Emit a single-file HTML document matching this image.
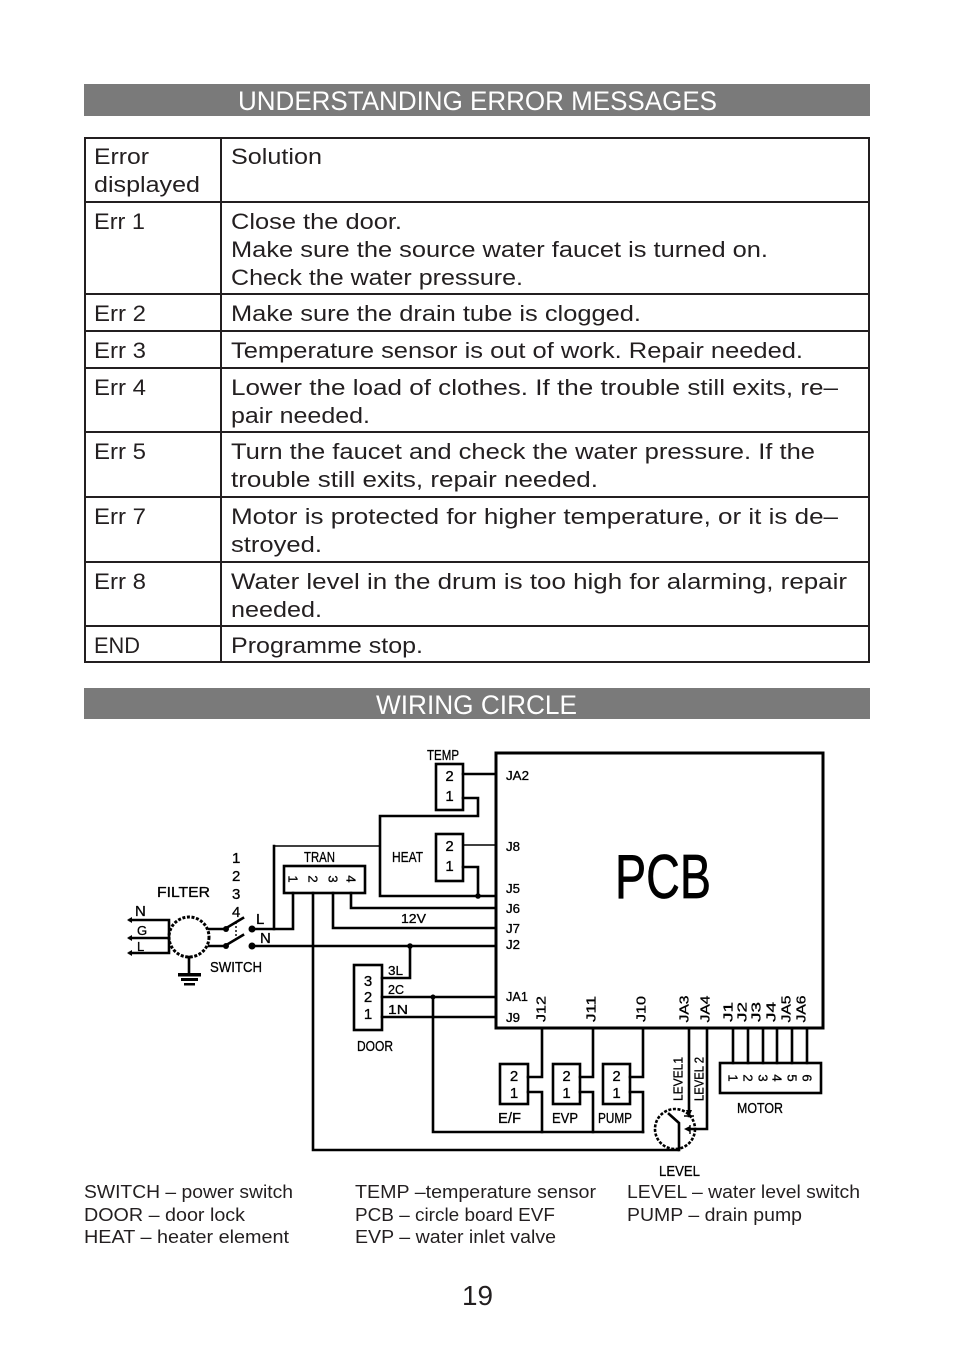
<!DOCTYPE html>
<html><head><meta charset="utf-8">
<style>
html,body{margin:0;padding:0;background:#fff;}
svg{display:block;}
.t{font-family:"Liberation Sans",sans-serif;font-size:22px;fill:#231f20;}
.h{font-family:"Liberation Sans",sans-serif;font-size:27px;fill:#fff;}
.lg{font-family:"Liberation Sans",sans-serif;font-size:18px;fill:#231f20;}
.d{font-family:"Liberation Sans",sans-serif;font-size:15px;fill:#000;stroke:#000;stroke-width:0.3;}
.s{font-family:"Liberation Sans",sans-serif;font-size:13px;fill:#000;stroke:#000;stroke-width:0.3;}
</style></head>
<body>
<svg width="954" height="1349" viewBox="0 0 954 1349" xmlns="http://www.w3.org/2000/svg">
<rect x="0" y="0" width="954" height="1349" fill="#fff"/>

<!-- Header 1 -->
<rect x="84" y="84" width="786" height="32" fill="#7a7a7a"/>
<text class="h" x="238" y="110" textLength="479" lengthAdjust="spacingAndGlyphs">UNDERSTANDING ERROR MESSAGES</text>

<!-- Table -->
<g stroke="#231f20" stroke-width="2" fill="none">
<rect x="85" y="138" width="784" height="524"/>
<line x1="221" y1="138" x2="221" y2="662"/>
<line x1="85" y1="202" x2="869" y2="202"/>
<line x1="85" y1="294" x2="869" y2="294"/>
<line x1="85" y1="331" x2="869" y2="331"/>
<line x1="85" y1="368" x2="869" y2="368"/>
<line x1="85" y1="432" x2="869" y2="432"/>
<line x1="85" y1="497" x2="869" y2="497"/>
<line x1="85" y1="562" x2="869" y2="562"/>
<line x1="85" y1="626" x2="869" y2="626"/>
</g>
<text class="t" x="94" y="164" textLength="55" lengthAdjust="spacingAndGlyphs">Error</text>
<text class="t" x="94" y="192" textLength="106" lengthAdjust="spacingAndGlyphs">displayed</text>
<text class="t" x="231" y="164" textLength="91" lengthAdjust="spacingAndGlyphs">Solution</text>

<text class="t" x="94" y="229" textLength="51" lengthAdjust="spacingAndGlyphs">Err 1</text>
<text class="t" x="231" y="229" textLength="171" lengthAdjust="spacingAndGlyphs">Close the door.</text>
<text class="t" x="231" y="257" textLength="537" lengthAdjust="spacingAndGlyphs">Make sure the source water faucet is turned on.</text>
<text class="t" x="231" y="285" textLength="292" lengthAdjust="spacingAndGlyphs">Check the water pressure.</text>

<text class="t" x="94" y="321" textLength="52" lengthAdjust="spacingAndGlyphs">Err 2</text>
<text class="t" x="231" y="321" textLength="410" lengthAdjust="spacingAndGlyphs">Make sure the drain tube is clogged.</text>

<text class="t" x="94" y="358" textLength="52" lengthAdjust="spacingAndGlyphs">Err 3</text>
<text class="t" x="231" y="358" textLength="572" lengthAdjust="spacingAndGlyphs">Temperature sensor is out of work. Repair needed.</text>

<text class="t" x="94" y="395" textLength="52" lengthAdjust="spacingAndGlyphs">Err 4</text>
<text class="t" x="231" y="395" textLength="607" lengthAdjust="spacingAndGlyphs">Lower the load of clothes. If the trouble still exits, re–</text>
<text class="t" x="231" y="423" textLength="139" lengthAdjust="spacingAndGlyphs">pair needed.</text>

<text class="t" x="94" y="459" textLength="52" lengthAdjust="spacingAndGlyphs">Err 5</text>
<text class="t" x="231" y="459" textLength="584" lengthAdjust="spacingAndGlyphs">Turn the faucet and check the water pressure. If the</text>
<text class="t" x="231" y="487" textLength="367" lengthAdjust="spacingAndGlyphs">trouble still exits, repair needed.</text>

<text class="t" x="94" y="524" textLength="52" lengthAdjust="spacingAndGlyphs">Err 7</text>
<text class="t" x="231" y="524" textLength="607" lengthAdjust="spacingAndGlyphs">Motor is protected for higher temperature, or it is de–</text>
<text class="t" x="231" y="552" textLength="91" lengthAdjust="spacingAndGlyphs">stroyed.</text>

<text class="t" x="94" y="589" textLength="52" lengthAdjust="spacingAndGlyphs">Err 8</text>
<text class="t" x="231" y="589" textLength="616" lengthAdjust="spacingAndGlyphs">Water level in the drum is too high for alarming, repair</text>
<text class="t" x="231" y="617" textLength="91" lengthAdjust="spacingAndGlyphs">needed.</text>

<text class="t" x="94" y="653" textLength="46" lengthAdjust="spacingAndGlyphs">END</text>
<text class="t" x="231" y="653" textLength="192" lengthAdjust="spacingAndGlyphs">Programme stop.</text>

<!-- Header 2 -->
<rect x="84" y="688" width="786" height="31" fill="#7a7a7a"/>
<text class="h" x="376" y="714" textLength="201" lengthAdjust="spacingAndGlyphs">WIRING CIRCLE</text>

<!-- Diagram wires -->
<g stroke="#000" stroke-width="2.6" fill="none" stroke-linecap="square" stroke-linejoin="miter">
<rect x="496" y="753" width="327" height="275" stroke-width="3"/>
<!-- TEMP -->
<rect x="436" y="764" width="27" height="46"/>
<path d="M463 774 H496"/>
<path d="M463 798 H478 V816 H380 V896 H496"/>
<!-- HEAT -->
<rect x="436" y="834" width="27" height="47"/>
<path d="M463 867 H478 V896"/>
<!-- TRAN -->
<rect x="284" y="866" width="81" height="27"/>
<path d="M252 929 H293 V893"/>
<path d="M274 929 V846"/>
<path d="M351 893 V908 H496"/>
<path d="M333 893 V928 H496"/>
<path d="M313 893 V1150 H678"/>
<path d="M252 946 H496"/>
<!-- DOOR -->
<rect x="354" y="965" width="28" height="65"/>
<path d="M410 946 V978 H382"/>
<path d="M382 997 H496"/>
<path d="M382 1017 H496"/>
<path d="M433 997 V1132 H643"/>
<!-- E/F EVP PUMP -->
<rect x="500" y="1064" width="28" height="40"/>
<rect x="553" y="1064" width="27" height="40"/>
<rect x="603" y="1064" width="27" height="40"/>
<path d="M528 1077 H542 V1028"/>
<path d="M528 1092 H542 V1132"/>
<path d="M580 1077 H593 V1028"/>
<path d="M580 1092 H593 V1132"/>
<path d="M630 1077 H643 V1028"/>
<path d="M630 1092 H643 V1132"/>
<!-- LEVEL -->
<path d="M689 1028 V1116"/>
<path d="M707 1028 V1129 H690"/>
<path d="M669 1114 L679 1123 V1150"/>
<!-- MOTOR -->
<rect x="720" y="1063" width="101" height="30"/>
<path d="M733 1028 V1063 M748 1028 V1063 M763 1028 V1063 M777 1028 V1063 M792 1028 V1063 M807 1028 V1063"/>
<!-- FILTER -->
<path d="M130 920 H169 M130 938 H169 M130 953 H169 M169 920 V953"/>
<path d="M189 957 V975"/>
<path d="M209 929 H223 M209 946 H223"/>
<path d="M228 927 L243 918 M228 944 L243 935"/>
</g>
<!-- thin wires -->
<g stroke="#000" stroke-width="1.4" fill="none">
<path d="M463 845 H496"/>
<path d="M274 846 H380"/>
<path d="M236 922 V940" stroke-dasharray="2 2"/>
<path d="M684 1116 H694 M690 1125 V1134"/>
</g>
<!-- dashed circles -->
<circle cx="189" cy="937" r="20" fill="none" stroke="#000" stroke-width="3" stroke-dasharray="3 1.6"/>
<circle cx="675" cy="1129" r="20" fill="none" stroke="#000" stroke-width="2.6" stroke-dasharray="3 1.6"/>
<!-- dots -->
<g fill="#000">
<circle cx="478" cy="896" r="2.8"/>
<circle cx="410" cy="946" r="2.8"/>
<circle cx="433" cy="997" r="2.5"/>
<circle cx="226" cy="929" r="3"/>
<circle cx="226" cy="946" r="3"/>
<circle cx="252" cy="929" r="3.5"/>
<circle cx="252" cy="946" r="3.5"/>
<polygon points="127,920 132,917 132,923"/>
<polygon points="127,938 132,935 132,941"/>
<polygon points="127,953 132,950 132,956"/>
<rect x="178" y="973" width="23" height="3.5"/>
<rect x="181" y="978" width="17" height="3"/>
<rect x="184" y="983" width="11" height="2.5"/>
<polygon points="686,1110 692,1110 689,1117"/>
<polygon points="690,1126 690,1132 684,1129"/>
</g>

<!-- Diagram labels -->
<text class="d" x="427" y="760" textLength="32" lengthAdjust="spacingAndGlyphs">TEMP</text>
<text class="d" x="392" y="862" textLength="31" lengthAdjust="spacingAndGlyphs">HEAT</text>
<text class="d" x="304" y="862" textLength="31" lengthAdjust="spacingAndGlyphs">TRAN</text>
<text class="d" x="157" y="897" textLength="53" lengthAdjust="spacingAndGlyphs">FILTER</text>
<text class="d" x="210" y="972" textLength="52" lengthAdjust="spacingAndGlyphs">SWITCH</text>
<text class="d" x="232" y="863">1</text>
<text class="d" x="232" y="881">2</text>
<text class="d" x="232" y="899">3</text>
<text class="d" x="232" y="917">4</text>
<text class="d" x="135" y="916">N</text>
<text class="s" x="137" y="935">G</text>
<text class="s" x="137" y="951">L</text>
<text class="d" x="256" y="924">L</text>
<text class="d" x="260" y="943">N</text>
<text class="s" x="401" y="923" textLength="25" lengthAdjust="spacingAndGlyphs">12V</text>
<text class="s" x="388" y="975" textLength="15" lengthAdjust="spacingAndGlyphs">3L</text>
<text class="s" x="388" y="994" textLength="16" lengthAdjust="spacingAndGlyphs">2C</text>
<text class="s" x="388" y="1014" textLength="20" lengthAdjust="spacingAndGlyphs">1N</text>
<text class="d" x="357" y="1051" textLength="36" lengthAdjust="spacingAndGlyphs">DOOR</text>

<text class="s" x="506" y="780" textLength="23" lengthAdjust="spacingAndGlyphs">JA2</text>
<text class="s" x="506" y="851" textLength="14" lengthAdjust="spacingAndGlyphs">J8</text>
<text class="s" x="506" y="893" textLength="14" lengthAdjust="spacingAndGlyphs">J5</text>
<text class="s" x="506" y="913" textLength="14" lengthAdjust="spacingAndGlyphs">J6</text>
<text class="s" x="506" y="933" textLength="14" lengthAdjust="spacingAndGlyphs">J7</text>
<text class="s" x="506" y="949" textLength="14" lengthAdjust="spacingAndGlyphs">J2</text>
<text class="s" x="506" y="1001" textLength="22" lengthAdjust="spacingAndGlyphs">JA1</text>
<text class="s" x="506" y="1022" textLength="14" lengthAdjust="spacingAndGlyphs">J9</text>

<g class="s" text-anchor="middle" dominant-baseline="central">
<text transform="translate(541,1009) rotate(-90)" textLength="26" lengthAdjust="spacingAndGlyphs">J12</text>
<text transform="translate(591,1009) rotate(-90)" textLength="26" lengthAdjust="spacingAndGlyphs">J11</text>
<text transform="translate(641,1009) rotate(-90)" textLength="26" lengthAdjust="spacingAndGlyphs">J10</text>
<text transform="translate(684,1009) rotate(-90)" textLength="27" lengthAdjust="spacingAndGlyphs">JA3</text>
<text transform="translate(705,1009) rotate(-90)" textLength="27" lengthAdjust="spacingAndGlyphs">JA4</text>
<text transform="translate(728,1012) rotate(-90)" textLength="20" lengthAdjust="spacingAndGlyphs">J1</text>
<text transform="translate(742,1012) rotate(-90)" textLength="20" lengthAdjust="spacingAndGlyphs">J2</text>
<text transform="translate(756,1012) rotate(-90)" textLength="20" lengthAdjust="spacingAndGlyphs">J3</text>
<text transform="translate(771,1012) rotate(-90)" textLength="20" lengthAdjust="spacingAndGlyphs">J4</text>
<text transform="translate(786,1009) rotate(-90)" textLength="27" lengthAdjust="spacingAndGlyphs">JA5</text>
<text transform="translate(801,1009) rotate(-90)" textLength="27" lengthAdjust="spacingAndGlyphs">JA6</text>
<text transform="translate(678,1079) rotate(-90)" textLength="44" lengthAdjust="spacingAndGlyphs">LEVEL1</text>
<text transform="translate(699,1079) rotate(-90)" textLength="44" lengthAdjust="spacingAndGlyphs">LEVEL 2</text>
<text transform="translate(293,879) rotate(90)">1</text>
<text transform="translate(313,879) rotate(90)">2</text>
<text transform="translate(333,879) rotate(90)">3</text>
<text transform="translate(351,879) rotate(90)">4</text>
<text transform="translate(733,1078) rotate(90)">1</text>
<text transform="translate(748,1078) rotate(90)">2</text>
<text transform="translate(763,1078) rotate(90)">3</text>
<text transform="translate(777,1078) rotate(90)">4</text>
<text transform="translate(792,1078) rotate(90)">5</text>
<text transform="translate(807,1078) rotate(90)">6</text>
</g>

<g class="d" text-anchor="middle">
<text x="449.5" y="781">2</text>
<text x="449.5" y="801">1</text>
<text x="449.5" y="851">2</text>
<text x="449.5" y="871">1</text>
<text x="368" y="986">3</text>
<text x="368" y="1002">2</text>
<text x="368" y="1019">1</text>
<text x="514" y="1081">2</text>
<text x="514" y="1098">1</text>
<text x="566.5" y="1081">2</text>
<text x="566.5" y="1098">1</text>
<text x="616.5" y="1081">2</text>
<text x="616.5" y="1098">1</text>
</g>

<text class="d" x="498" y="1123" textLength="23" lengthAdjust="spacingAndGlyphs">E/F</text>
<text class="d" x="552" y="1123" textLength="26" lengthAdjust="spacingAndGlyphs">EVP</text>
<text class="d" x="598" y="1123" textLength="34" lengthAdjust="spacingAndGlyphs">PUMP</text>
<text class="d" x="659" y="1176" textLength="41" lengthAdjust="spacingAndGlyphs">LEVEL</text>
<text class="d" x="737" y="1113" textLength="46" lengthAdjust="spacingAndGlyphs">MOTOR</text>

<text x="615" y="898" font-family="Liberation Sans, sans-serif" font-size="62" fill="#000" stroke="#000" stroke-width="0.7" textLength="96" lengthAdjust="spacingAndGlyphs">PCB</text>

<!-- Legend -->
<text class="lg" x="84" y="1198" textLength="209" lengthAdjust="spacingAndGlyphs">SWITCH – power switch</text>
<text class="lg" x="84" y="1221" textLength="161" lengthAdjust="spacingAndGlyphs">DOOR – door lock</text>
<text class="lg" x="84" y="1243" textLength="205" lengthAdjust="spacingAndGlyphs">HEAT – heater element</text>
<text class="lg" x="355" y="1198" textLength="241" lengthAdjust="spacingAndGlyphs">TEMP –temperature sensor</text>
<text class="lg" x="355" y="1221" textLength="200" lengthAdjust="spacingAndGlyphs">PCB – circle board EVF</text>
<text class="lg" x="355" y="1243" textLength="201" lengthAdjust="spacingAndGlyphs">EVP – water inlet valve</text>
<text class="lg" x="627" y="1198" textLength="233" lengthAdjust="spacingAndGlyphs">LEVEL – water level switch</text>
<text class="lg" x="627" y="1221" textLength="175" lengthAdjust="spacingAndGlyphs">PUMP – drain pump</text>

<text x="462" y="1305" font-family="Liberation Sans, sans-serif" font-size="28" fill="#231f20" textLength="31" lengthAdjust="spacingAndGlyphs">19</text>
</svg>
</body></html>
